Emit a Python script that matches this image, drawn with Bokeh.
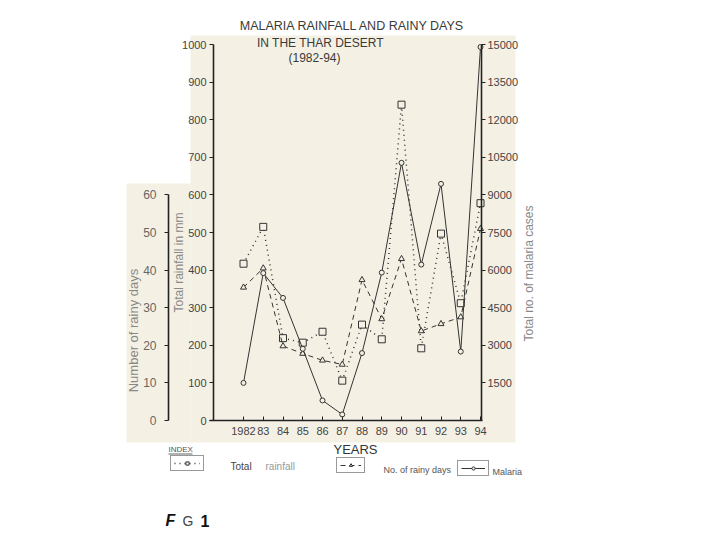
import math
from bokeh.plotting import figure
from bokeh.models import (Range1d, LinearAxis, FixedTicker, Label, BoxAnnotation,
                          Legend, LegendItem)
from bokeh.embed import file_html
from bokeh.resources import INLINE

# ---------------- data ----------------
years = [1982, 1983, 1984, 1985, 1986, 1987, 1988, 1989, 1990, 1991, 1992, 1993, 1994]
year_labels = ["1982", "83", "84", "85", "86", "87", "88", "89", "90", "91", "92", "93", "94"]
rainfall_mm = [417, 515, 219, 207, 236, 106, 255, 216, 840, 192, 497, 312, 578]
rainy_days = [35.4, 40.5, 19.8, 17.8, 16.0, 14.9, 37.4, 27.0, 43.0, 23.8, 25.7, 27.5, 51.0]
malaria_cases = [1500, 5880, 4890, 2860, 800, 240, 2690, 5900, 10280, 6220, 9440, 2750, 14900]

rain_ticks = [0, 100, 200, 300, 400, 500, 600, 700, 800, 900, 1000]
day_ticks = [0, 10, 20, 30, 40, 50, 60]
case_ticks = [1500, 3000, 4500, 6000, 7500, 9000, 10500, 12000, 13500, 15000]

title_lines = ["MALARIA RAINFALL AND RAINY DAYS", "IN THE THAR DESERT", "(1982-94)"]
axis_titles = ["Number of rainy days", "Total rainfall in mm", "Total no. of malaria cases", "YEARS"]
legend_labels = ["Total", "rainfall", "No. of rainy days", "Malaria"]
fig_caption = ["F", "G", "1"]

# ---------------- layout constants (page pixels) ----------------
W, H = 720, 540
CREAM = "#f4f1e4"
INK = "#333333"
FONT = "Liberation Sans"
PXX = 19.75          # pixels per year
PXY = 0.376          # pixels per mm (1000 mm = 376 px)


def X(px):
    return 1982 + (px - 243) / PXX


def Y(py):
    return (420 - py) / PXY


p = figure(width=W, height=H, x_range=Range1d(X(0), X(W)), y_range=Range1d(Y(H), Y(0)),
           output_backend="svg", toolbar_location=None,
           min_border_left=0, min_border_right=0, min_border_top=0, min_border_bottom=0,
           background_fill_color="white", border_fill_color="white",
           outline_line_color=None)
p.xgrid.visible = False
p.ygrid.visible = False
p.extra_y_ranges = {"days": Range1d(Y(H) / 10, Y(0) / 10),
                    "cases": Range1d(Y(H) * 15, Y(0) * 15)}

# scanned-paper background
p.add_layout(BoxAnnotation(left=X(190), right=X(515), top=Y(35), bottom=Y(442),
                           fill_color=CREAM, fill_alpha=1, line_color=None, level="underlay"))
p.add_layout(BoxAnnotation(left=X(126), right=X(190), top=Y(183), bottom=Y(442),
                           fill_color=CREAM, fill_alpha=1, line_color=None, level="underlay"))


def style_axis(ax, size, color, standoff, tick_out=4, tick_in=0):
    ax.axis_line_width = 1.6
    ax.axis_line_color = "#222"
    ax.major_tick_out = tick_out
    ax.major_tick_in = tick_in
    ax.major_tick_line_color = "#222"
    ax.minor_tick_out = 0
    ax.minor_tick_in = 0
    ax.major_label_standoff = standoff
    ax.major_label_text_font = FONT
    ax.major_label_text_font_size = size
    ax.major_label_text_color = color


# main (rainfall) axis
ya = p.yaxis[0]
ya.ticker = FixedTicker(ticks=rain_ticks)
ya.fixed_location = X(213)
ya.bounds = (0, 1000)
style_axis(ya, "11px", "#444", 3)

# x axis
xa = p.xaxis[0]
xa.ticker = FixedTicker(ticks=years)
xa.major_label_overrides = {y: l for y, l in zip(years, year_labels)}
xa.fixed_location = 0
xa.bounds = (X(209), X(482))
style_axis(xa, "11px", "#444", 6, tick_out=0, tick_in=4)

# rainy days axis (far left)
da = LinearAxis(y_range_name="days", bounds=(0, 60), ticker=FixedTicker(ticks=day_ticks),
                fixed_location=X(168))
style_axis(da, "12px", "#666", 8)
p.add_layout(da, "left")

# malaria cases axis (right)
ca = LinearAxis(y_range_name="cases", bounds=(0, 15000), ticker=FixedTicker(ticks=case_ticks),
                fixed_location=X(481))
style_axis(ca, "11px", "#444", 2)
p.add_layout(ca, "right")

# ---------------- series ----------------
r_rain_l = p.line(years, rainfall_mm, line_color=INK, line_width=1.5, line_dash="1 4")
r_rain_m = p.scatter(years, rainfall_mm, marker="square", size=7, line_color=INK,
                     fill_color=CREAM, line_width=1)
r_days_l = p.line(years, rainy_days, y_range_name="days", line_color=INK, line_width=1.0,
                  line_dash="5 4")
r_days_m = p.scatter(years, rainy_days, y_range_name="days", marker="triangle", size=6,
                     line_color=INK, fill_color=CREAM, line_width=1)
r_mal_l = p.line(years, malaria_cases, y_range_name="cases", line_color=INK, line_width=1.0)
r_mal_m = p.scatter(years, malaria_cases, y_range_name="cases", marker="circle", size=5,
                    line_color=INK, fill_color=CREAM, line_width=1)


# ---------------- texts ----------------
def lab(text, px, py, size, color="#3a3a3a", align="center", angle=0.0, style="normal"):
    p.add_layout(Label(x=X(px), y=Y(py), text=text, text_align=align,
                       text_baseline="middle", text_font=FONT, text_font_size=size,
                       text_color=color, angle=angle, text_font_style=style))


lab(title_lines[0], 352, 25, "12.5px")
lab(title_lines[1], 320, 42, "12px")
lab(title_lines[2], 314, 57, "12px")

lab(axis_titles[0], 133, 330, "13px", color="#888", angle=math.pi / 2)
lab(axis_titles[1], 178, 262, "12px", color="#888", angle=math.pi / 2)
lab(axis_titles[2], 528, 273, "12px", color="#888", angle=math.pi / 2)
lab(axis_titles[3], 355, 449, "13px", color="#333")

# legend ("INDEX")
lab("INDEX", 168, 449, "8px", color="#555", align="left")
p.add_layout(BoxAnnotation(left=X(168), right=X(192), top=Y(453), bottom=Y(454),
                           fill_color="#666", fill_alpha=1, line_color=None))


def legend_box(renderers, left_px, bottom_px, glyph_w):
    lg = Legend(items=[LegendItem(label=" ", renderers=renderers)],
                location=(left_px, H - bottom_px), orientation="horizontal",
                glyph_width=glyph_w, glyph_height=8, label_width=0, label_height=0,
                label_standoff=0, label_text_font_size="3px", padding=3, margin=0,
                spacing=0, border_line_color=INK, border_line_width=1,
                background_fill_alpha=0)
    p.add_layout(lg)


legend_box([r_rain_l, r_rain_m], 170, 471, 26)
legend_box([r_days_l, r_days_m], 336, 473, 21)
legend_box([r_mal_l, r_mal_m], 457, 476, 24)

lab(legend_labels[0], 230, 466, "10px", color="#444", align="left")
lab(legend_labels[1], 265, 466, "10px", color="#999", align="left")
lab(legend_labels[2], 383, 469, "9px", color="#555", align="left")
lab(legend_labels[3], 492, 471, "9px", color="#555", align="left")

lab(fig_caption[0], 165, 520, "16px", color="#111", align="left", style="bold italic")
lab(fig_caption[1], 182, 520, "14px", color="#444", align="left")
lab(fig_caption[2], 200, 520, "16px", color="#111", align="left", style="bold")

open("out.html", "w").write(file_html(p, INLINE))
